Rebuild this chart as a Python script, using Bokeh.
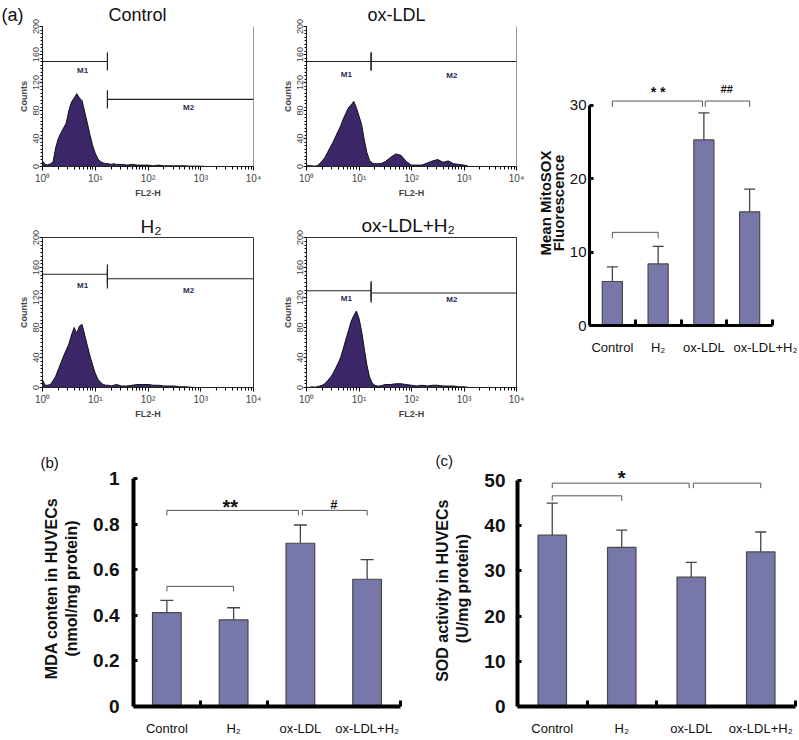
from bokeh.plotting import figure
from bokeh.models import Range1d, FixedTicker, Label, Span, Whisker, TeeHead, ColumnDataSource
from bokeh.layouts import row, column
from bokeh.embed import file_html
from bokeh.resources import INLINE

# ---------------- data ----------------
groups = ["Control", "H₂", "ox-LDL", "ox-LDL+H₂"]

mitosox_mean = [6.0, 8.4, 25.3, 15.5]
mitosox_sd = [2.0, 2.4, 3.7, 3.1]

mda_mean = [0.412, 0.38, 0.716, 0.558]
mda_sd = [0.053, 0.053, 0.080, 0.086]

sod_mean = [37.9, 35.2, 28.6, 34.2]
sod_sd = [7.1, 3.8, 3.3, 4.4]

# significance brackets: (from group index, to group index, height)
mitosox_brackets = [(0, 2, 30.6), (2, 3, 30.6), (0, 1, 12.7)]
mitosox_marks = [("* *", 1.5, 31.9), ("##", 3.0, 32.2)]
mda_brackets = [(0, 2, 0.86), (2, 3, 0.86), (0, 1, 0.527)]
mda_marks = [("**", 1.45, 0.877), ("#", 3.0, 0.885)]
sod_brackets = [(0, 2, 49.4), (2, 3, 49.4), (0, 1, 46.6)]
sod_marks = [("*", 1.5, 50.6)]

# flow cytometry histograms: log10(FL2-H) channel positions and counts
fl2h_log = [0.00, 0.05, 0.10, 0.15, 0.20, 0.25, 0.30, 0.35, 0.40, 0.45,
            0.50, 0.55, 0.60, 0.65, 0.70, 0.75, 0.80, 0.85, 0.90, 0.95,
            1.00, 1.05, 1.10, 1.15, 1.20, 1.25, 1.30, 1.35, 1.40, 1.45,
            1.50, 1.60, 1.70, 1.80, 1.90, 2.00, 2.10, 2.20, 2.30, 2.40,
            2.50, 2.60, 2.70, 2.80, 2.90, 3.00, 3.10, 3.20]
counts_control = [8, 3, 2, 4, 6, 27, 40, 48, 55, 62,
                  80, 92, 98, 104, 98, 94, 78, 62, 45, 30,
                  19, 11, 7, 5, 4, 4, 3, 4, 3, 3,
                  3, 2, 3, 2, 2, 2, 1, 2, 1, 1,
                  1, 1, 1, 0.5, 0.5, 0.5, 0, 0]
counts_oxldl = [2, 1, 1, 0.5, 1, 4, 8, 13, 20, 27,
                34, 42, 50, 58, 68, 76, 84, 88, 93, 84,
                72, 60, 38, 20, 9, 5, 4, 4, 4, 5,
                7, 13, 18, 16, 7, 2, 2, 2, 5, 8,
                10, 6, 8, 4, 3, 2, 0, 0]
counts_h2 = [10, 3, 3, 4, 9, 15, 24, 33, 42, 50,
             58, 70, 80, 72, 82, 84, 70, 56, 42, 30,
             19, 11, 7, 4, 3, 3, 2, 3, 4, 3,
             2, 2, 3, 4, 4, 4, 3, 3, 2, 2,
             2, 1, 1, 0.5, 0, 0, 0, 0]
counts_oxldl_h2 = [0.5, 0, 1, 0.5, 1, 2, 3, 5, 9, 13,
                   18, 25, 32, 40, 52, 64, 76, 88, 96, 102,
                   92, 75, 52, 30, 14, 6, 3, 2, 2, 3,
                   4, 4, 5, 5, 4, 3, 2, 3, 2, 3,
                   3, 2, 2, 2, 1, 1, 0, 0]
gate_edges = [1, 17, 10000]   # M1: 1-17, M2: 17-10^4

x_decade_ticks = [1, 10, 100, 1000, 10000]
x_decade_labels = ["10⁰", "10¹", "10²", "10³", "10⁴"]
count_ticks = [0, 40, 80, 120, 160, 200]

mitosox_ticks = [0, 10, 20, 30]
mda_ticks = [0, 0.2, 0.4, 0.6, 0.8, 1]
mda_tick_labels = ["0", "0.2", "0.4", "0.6", "0.8", "1"]
sod_ticks = [0, 10, 20, 30, 40, 50]

# ---------------- styles ----------------
FONT = "Liberation Sans"
HIST_FILL = "#3b2768"
BAR_FILL = "#7877a9"
BAR_EDGE = "#4a4a4a"
BRACKET = "#555555"
NBSP = "\u00a0"


def hist_panel(counts, title, w, h, bl, br, bt, bb, m1, m2, m1_lab, m2_lab,
               boxed, title_offset=0, title_standoff=2, title_size="19px"):
    p = figure(width=w, height=h, x_axis_type="log",
               x_range=Range1d(1, 1e4), y_range=Range1d(0, 200),
               output_backend="svg", toolbar_location=None,
               min_border_left=bl, min_border_right=br,
               min_border_top=bt, min_border_bottom=bb)
    p.xgrid.visible = False
    p.ygrid.visible = False
    p.background_fill_color = "white"
    p.border_fill_color = "white"
    if boxed:
        p.outline_line_color = "#333333"
        p.outline_line_width = 1
    else:
        p.outline_line_color = None
        p.add_layout(Span(location=1e4, dimension="height",
                          line_color="#333333", line_width=1))

    p.title.text = title
    p.title.align = "left"
    p.title.offset = title_offset
    p.title.standoff = title_standoff
    p.title.text_font = FONT
    p.title.text_font_size = title_size
    p.title.text_font_style = "normal"
    p.title.text_color = "#111111"

    xs = [10 ** e for e in fl2h_log]
    p.varea(x=xs, y1=[0] * len(xs), y2=counts, fill_color=HIST_FILL)
    p.line(xs, counts, line_color="#111111", line_width=1)

    # gates
    g0, g1, g2 = gate_edges
    p.segment(x0=[g0, g1], y0=[m1, m2], x1=[g1, g2], y1=[m1, m2],
              line_color="#222222", line_width=1.2)
    p.segment(x0=[g0, g1, g1], y0=[m1 - 15, m1 - 13, m2 - 13],
              x1=[g0, g1, g1], y1=[m1 + 15, m1 + 13, m2 + 13],
              line_color="#222222", line_width=1.2)
    for txt, xv, yv in (("M1", 10 ** 0.76, m1_lab), ("M2", 10 ** 2.77, m2_lab)):
        p.add_layout(Label(x=xv, y=yv, text=txt, text_align="center",
                           text_baseline="middle", text_font=FONT,
                           text_font_size="8px", text_font_style="bold",
                           text_color="#2a2a50"))

    xa = p.xaxis[0]
    xa.ticker = FixedTicker(ticks=x_decade_ticks,
                            minor_ticks=[m * 10 ** d for d in range(4) for m in range(2, 10)])
    xa.major_label_overrides = dict(zip(x_decade_ticks, x_decade_labels))
    xa.major_label_text_font = FONT
    xa.major_label_text_font_size = "10px"
    xa.major_label_standoff = 2
    xa.major_tick_out = 4
    xa.major_tick_in = 0
    xa.minor_tick_out = 3
    xa.minor_tick_in = 0
    xa.axis_label = "FL2-H"
    xa.axis_label_text_font = FONT
    xa.axis_label_text_font_size = "9px"
    xa.axis_label_text_font_style = "bold"
    xa.axis_label_standoff = 1
    xa.axis_line_color = "#222222"

    ya = p.yaxis[0]
    ya.ticker = FixedTicker(ticks=count_ticks, minor_ticks=list(range(0, 201, 5)))
    ya.major_label_orientation = "vertical"
    ya.major_label_text_font = FONT
    ya.major_label_text_font_size = "9px"
    ya.major_label_standoff = 1
    ya.major_tick_out = 3
    ya.major_tick_in = 0
    ya.minor_tick_out = 2
    ya.minor_tick_in = 0
    ya.axis_label = "Counts"
    ya.axis_label_text_font = FONT
    ya.axis_label_text_font_size = "9px"
    ya.axis_label_text_font_style = "bold"
    ya.axis_label_standoff = 1
    ya.axis_line_color = "#222222"
    return p


def bar_panel(means, sds, brackets, leg, marks, w, h, bl, br, bt, bb, ymax,
              yticks, ybound, ylabel, ylabel_size, ylabel_lh, ylabel_standoff,
              bar_w, cap, tick_size, tick_style, tick_standoff,
              axis_w, minor_x, mark_sizes, label_pos, tag=None, tag_offset=0,
              tag_standoff=0):
    p = figure(width=w, height=h, x_range=Range1d(0, 4), y_range=Range1d(0, ymax),
               output_backend="svg", toolbar_location=None,
               min_border_left=bl, min_border_right=br,
               min_border_top=bt, min_border_bottom=bb)
    p.xgrid.visible = False
    p.ygrid.visible = False
    p.outline_line_color = None
    p.background_fill_color = "white"
    p.border_fill_color = "white"
    if tag:
        p.title.text = tag
        p.title.align = "left"
        p.title.offset = tag_offset
        p.title.standoff = tag_standoff
        p.title.text_font = FONT
        p.title.text_font_size = "15px"
        p.title.text_font_style = "normal"
        p.title.text_color = "#111111"

    centers = [i + 0.5 for i in range(len(groups))]
    src = ColumnDataSource(dict(x=centers, top=means,
                                upper=[m + s for m, s in zip(means, sds)]))
    p.vbar(x="x", top="top", bottom=0, width=bar_w, source=src,
           fill_color=BAR_FILL, line_color=BAR_EDGE, line_width=1.2)
    wk = Whisker(base="x", lower="top", upper="upper", source=src,
                 line_color="#444444", line_width=1.3, lower_head=None,
                 upper_head=TeeHead(size=cap, line_color="#444444", line_width=1.3),
                 level="overlay")
    p.add_layout(wk)

    # brackets
    shared = {}
    for a, b, yb in brackets:
        shared[(a, yb)] = shared.get((a, yb), 0) + 1
        shared[(b, yb)] = shared.get((b, yb), 0) + 1
    bx, by = [], []
    for a, b, yb in brackets:
        x0 = a + 0.5 + (0.03 if shared[(a, yb)] > 1 else 0)
        x1 = b + 0.5 - (0.03 if shared[(b, yb)] > 1 else 0)
        bx.append([x0, x0, x1, x1])
        by.append([yb - leg, yb, yb, yb - leg])
    p.multi_line(bx, by, line_color=BRACKET, line_width=1)
    for (txt, xm, ym), fs in zip(marks, mark_sizes):
        p.add_layout(Label(x=xm, y=ym, text=txt, text_align="center",
                           text_baseline="middle", text_font=FONT,
                           text_font_size=fs, text_font_style="bold",
                           text_color="#111111"))

    xa = p.xaxis[0]
    xa.ticker = FixedTicker(ticks=label_pos, minor_ticks=minor_x)
    xa.major_label_overrides = dict(zip(label_pos, groups))
    xa.major_label_text_font = FONT
    xa.major_label_text_font_size = "13px"
    xa.major_label_text_color = "#111111"
    xa.major_label_standoff = 8
    xa.major_tick_line_color = None
    xa.minor_tick_in = 6
    xa.minor_tick_out = 0
    xa.minor_tick_line_width = 3
    xa.minor_tick_line_color = "black"
    xa.axis_line_width = axis_w
    xa.axis_line_color = "black"
    xa.bounds = (0, 4)

    ya = p.yaxis[0]
    ya.ticker = FixedTicker(ticks=yticks)
    ya.major_label_text_font = FONT
    ya.major_label_text_font_size = tick_size
    ya.major_label_text_font_style = tick_style
    ya.major_label_text_color = "#111111"
    ya.major_label_standoff = tick_standoff
    ya.major_tick_in = 4
    ya.major_tick_out = 0
    ya.major_tick_line_width = 3
    ya.minor_tick_line_color = None
    ya.axis_line_width = axis_w
    ya.axis_line_color = "black"
    ya.bounds = ybound
    ya.axis_label = ylabel
    ya.axis_label_text_font = FONT
    ya.axis_label_text_font_size = ylabel_size
    ya.axis_label_text_font_style = "bold"
    ya.axis_label_text_color = "#111111"
    ya.axis_label_text_line_height = ylabel_lh
    ya.axis_label_standoff = ylabel_standoff
    return p


# ---------------- panel (a) ----------------
ctrl_title = "(a)" + NBSP * 17 + "Control"
p_ctrl = hist_panel(counts_control, ctrl_title, 276, 200, 42, 23, 26, 33,
                    150, 96, 137, 84, False, title_offset=-41,
                    title_standoff=4, title_size="18px")
p_ox = hist_panel(counts_oxldl, "ox-LDL", 250, 200, 30, 10, 26, 33,
                  150, 150, 132, 130, False, title_offset=61,
                  title_standoff=4, title_size="18px")
p_h2 = hist_panel(counts_h2, "H₂", 276, 240, 42, 23, 37, 53,
                  151, 145, 136, 130, True, title_offset=98, title_standoff=1)
p_oxh2 = hist_panel(counts_oxldl_h2, "ox-LDL+H₂", 250, 240, 30, 10, 37, 53,
                    129, 126, 119, 117, True, title_offset=55, title_standoff=4)

p_mito = bar_panel(mitosox_mean, mitosox_sd, mitosox_brackets, 0.8, mitosox_marks,
                   271, 440, 63, 25, 80, 115, 33.4, mitosox_ticks, (0, 30),
                   "Mean MitoSOX\nFluorescence", "15px", 0.75, 0,
                   0.44, 11, "15px", "normal", 3, 3, [1, 2, 3, 4],
                   ["14px", "11px"], [0.5, 1.5, 2.5, 3.9])

# ---------------- panels (b) and (c) ----------------
p_mda = bar_panel(mda_mean, mda_sd, mda_brackets, 0.022, mda_marks,
                  406, 298, 133, 6, 30, 32, 1.035, mda_ticks, (0, 1),
                  "MDA conten in HUVECs\n(nmol/mg protein)", "16px", 1.2, 10,
                  0.43, 13, "19px", "bold", 14, 4, [1, 2, 4],
                  ["20px", "13px"], [0.5, 1.5, 2.5, 3.5],
                  tag="(b)", tag_offset=-93, tag_standoff=0)
p_mda.yaxis[0].major_label_overrides = dict(zip(mda_ticks, mda_tick_labels))

p_sod = bar_panel(sod_mean, sod_sd, sod_brackets, 1.1, sod_marks,
                  391, 298, 111, 2, 30, 32, 52.2, sod_ticks, (0, 50),
                  "SOD activity  in HUVECs\n(U/mg protein)", "16px", 1.2, 10,
                  0.41, 11, "19px", "bold", 12, 4, [1, 2, 4],
                  ["20px"], [0.5, 1.5, 2.5, 3.5],
                  tag="(c)", tag_offset=-82, tag_standoff=3)

layout = column(
    row(column(row(p_ctrl, p_ox), row(p_h2, p_oxh2)), p_mito),
    row(p_mda, p_sod),
)

open("out.html", "w").write(file_html(layout, INLINE))
